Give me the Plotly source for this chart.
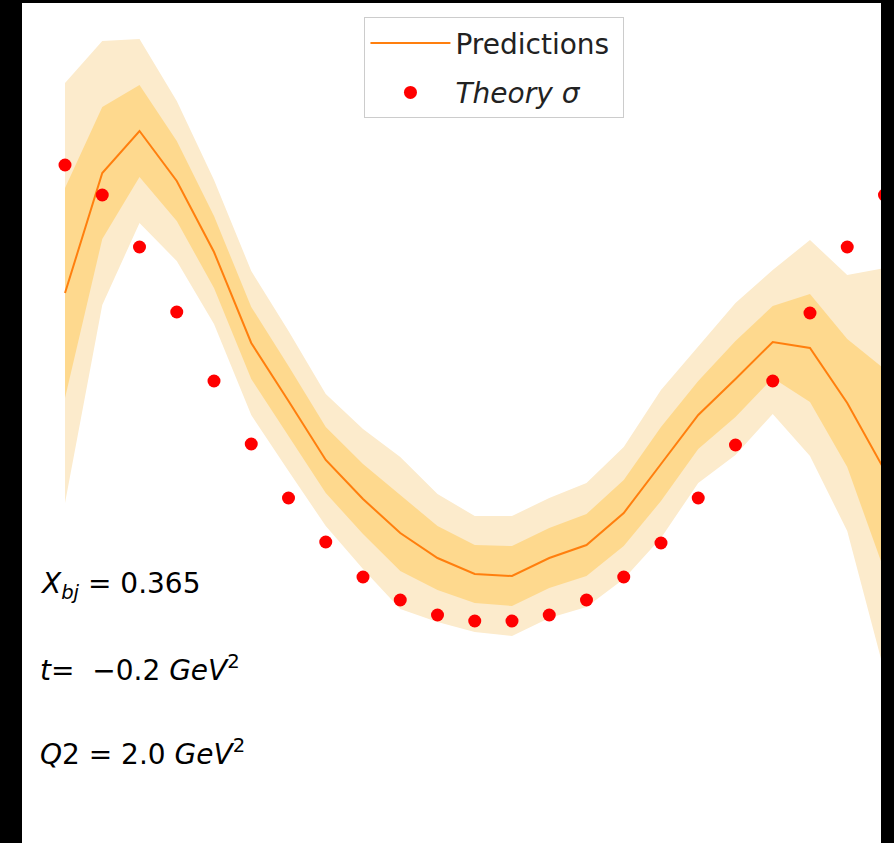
import plotly.graph_objects as go

# Azimuthal angle bins (degrees)
phi = [7.5, 22.5, 37.5, 52.5, 67.5, 82.5, 97.5, 112.5, 127.5, 142.5, 157.5, 172.5,
       187.5, 202.5, 217.5, 232.5, 247.5, 262.5, 277.5, 292.5, 307.5, 322.5, 337.5]

# Theory cross section
theory_sigma = [0.0678, 0.0648, 0.0596, 0.0531, 0.0462, 0.0399, 0.0345, 0.0301,
                0.0266, 0.0243, 0.0228, 0.0222, 0.0222, 0.0228, 0.0243, 0.0266,
                0.0300, 0.0345, 0.0398, 0.0462, 0.0530, 0.0596, 0.0648]

# Model predictions: mean and standard deviation
pred_mean = [0.0550, 0.0670, 0.0712, 0.0662, 0.0591, 0.0500, 0.0442, 0.0383,
             0.0344, 0.0310, 0.0285, 0.0269, 0.0267, 0.0285, 0.0298, 0.0330,
             0.0379, 0.0428, 0.0464, 0.0501, 0.0495, 0.0440, 0.0373]
pred_std = [0.0105, 0.0066, 0.0046, 0.0040, 0.0036, 0.0036, 0.0035, 0.0033,
            0.0035, 0.0038, 0.0032, 0.0029, 0.0030, 0.0030, 0.0031, 0.0033,
            0.0037, 0.0034, 0.0038, 0.0036, 0.0054, 0.0064, 0.0101]

kinematics = [
    "<i>X</i><sub><i>bj</i></sub> = 0.365",
    "<i>t</i>=  −0.2 <i>GeV</i><sup>2</sup>",
    "<i>Q</i>2 = 2.0 <i>GeV</i><sup>2</sup>",
]

FONT = "DejaVu Sans"
LIGHT = "rgb(252,235,204)"
DARK = "rgb(254,217,142)"
LINE = "#ff7f0e"

fig = go.Figure()


def band(k, color):
    hi = [m + k * s for m, s in zip(pred_mean, pred_std)]
    lo = [m - k * s for m, s in zip(pred_mean, pred_std)]
    fig.add_trace(go.Scatter(x=phi, y=hi, mode="lines", line=dict(width=0),
                             showlegend=False, hoverinfo="skip"))
    fig.add_trace(go.Scatter(x=phi, y=lo, mode="lines", line=dict(width=0),
                             fill="tonexty", fillcolor=color,
                             showlegend=False, hoverinfo="skip"))


band(2, LIGHT)
band(1, DARK)

fig.add_trace(go.Scatter(x=phi, y=pred_mean, mode="lines",
                         name="Predictions\u00a0",
                         line=dict(color=LINE, width=2), legendgroup="a"))
fig.add_trace(go.Scatter(x=phi, y=theory_sigma, mode="markers",
                         name="<i>Theory σ</i>", legendgroup="b",
                         marker=dict(color="red", size=13)))

for i, txt in enumerate(kinematics):
    fig.add_annotation(x=0.019, y=[0.307, 0.208, 0.108][i], xref="paper", yref="paper",
                       text=txt, showarrow=False, xanchor="left", yanchor="middle",
                       font=dict(family=FONT, size=28, color="black"))

fig.update_xaxes(visible=False, range=[-9.82, 336.1])
fig.update_yaxes(visible=False, range=[0.0, 0.084])

fig.update_layout(
    width=894, height=843,
    margin=dict(l=22, r=13, t=3, b=0),
    paper_bgcolor="black", plot_bgcolor="white",
    font=dict(family=FONT, size=28, color="black"),
    legend=dict(x=0.55, y=0.983, xanchor="center", yanchor="top",
                bgcolor="white", bordercolor="#cccccc", borderwidth=1,
                tracegroupgap=10, itemwidth=80,
                font=dict(family=FONT, size=28, color="#222222")),
)

fig.write_html("out.html")
